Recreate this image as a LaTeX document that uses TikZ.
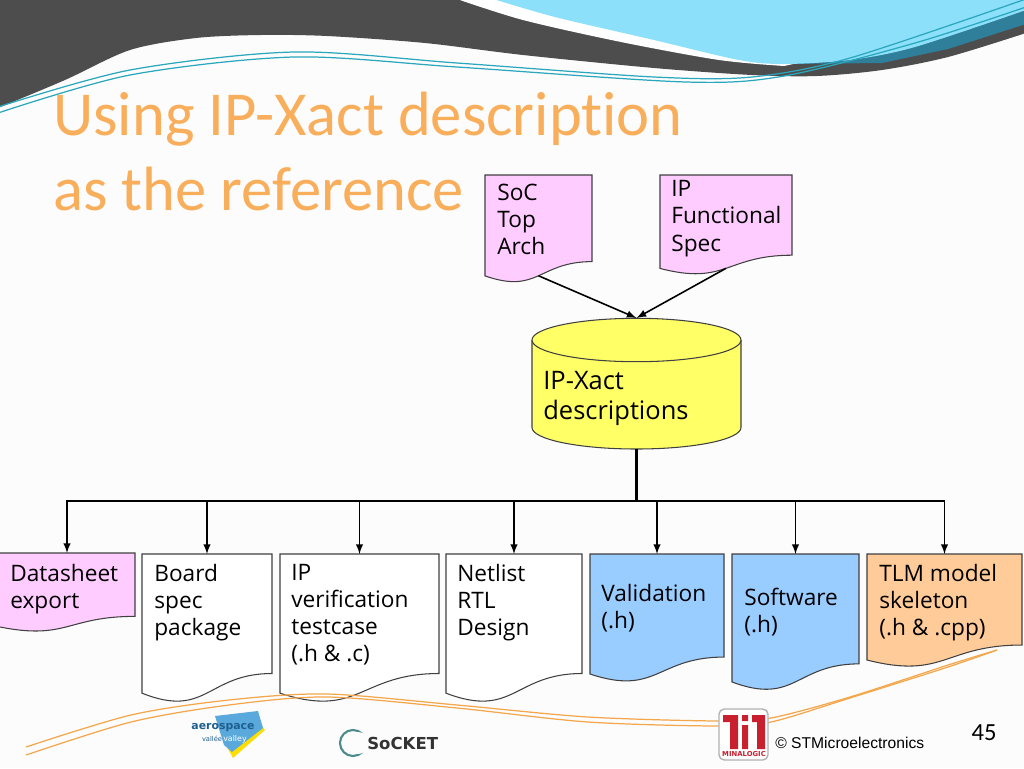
\documentclass[tikz,border=0pt]{standalone}
\usepackage{fontspec}
\setmainfont{Open Sans}
\newfontfamily\titlefont[Ligatures=NoCommon]{Carlito}
\newfontfamily\footfont{Liberation Sans}
\newfontfamily\logofont{DejaVu Sans}
\definecolor{swdark}{HTML}{4D4D4D}
\definecolor{swblue}{HTML}{8CE0FA}
\definecolor{swteal}{HTML}{2F7F9A}
\definecolor{swline}{HTML}{2AA7BD}
\definecolor{swamber}{HTML}{F4A64A}
\definecolor{titleamber}{HTML}{F9AE5B}
\definecolor{docpink}{HTML}{FFCCFF}
\definecolor{docblue}{HTML}{99CCFF}
\definecolor{docorange}{HTML}{FFCC99}
\definecolor{dbyellow}{HTML}{FFFF66}
\definecolor{minared}{HTML}{C8202F}
\definecolor{aeroblue}{HTML}{1F5F8F}
\definecolor{aerosky}{HTML}{5AA9DC}
\tikzset{
	docline/.style={draw=black!75,line width=.6pt},
	docarea/.style={anchor=north west,inner sep=0pt,outer sep=0pt},
	doctext/.style={anchor=north west,inner sep=0pt,align=left,font=\fontsize{12.9}{15.5}\selectfont},
	link/.style={draw=black,line width=.9pt,-latex},
	swcurve/.style={line width=.7pt}
}
% page-style document outline, an empty node over it for the connectors, its text
\newcommand{\docshape}[9]{
	\draw[docline,fill=#6] (#2,#3) -- ++(#4,0) -- ++(0,{.802*#5})
	.. controls ({#2+.5*#4},{#3+.802*#5}) and ({#2+.5*#4},{#3+1.1075*#5}) .. ({#2},{#3+.934*#5}) -- cycle;
	\node[docarea,minimum width={#4*.02cm},minimum height={.933*#5*.02cm}] (#1) at (#2,#3) {};
	\node[doctext] (#1text) at (#7,#8) {#9};
}
\begin{document}
\begin{tikzpicture}[x=.02cm,y=-.02cm]
	\useasboundingbox (0,0) rectangle (1024,768);
	\fill[black!1] (0,0) rectangle (1024,768);

	% header swoosh
	\fill[swdark] plot[smooth] coordinates {(-2,108) (65,80) (130,50) (196,38) (261,35) (327,36) (425,43) (523,55) (654,68) (752,75) (817,76) (882,70) (948,57) (1026,33)} -- (1026,-2) -- (-2,-2) -- cycle;
	\fill[white] plot[smooth] coordinates {(454,-2) (523,20) (621,42) (719,60) (784,66)} -- (1026,14) -- (1026,-2) -- cycle;
	\fill[swteal] plot[smooth] coordinates {(790,64) (882,50) (948,35) (1026,5)} -- (1026,24) -- (948,49) -- (882,63) -- cycle;
	\fill[swblue] plot[smooth] coordinates {(490,-2) (555,17) (654,40) (739,60) (784,64) (850,60) (915,47) (1026,10)} -- (1026,-2) -- cycle;
	\draw[swline,swcurve] plot[smooth] coordinates {(-2,107) (130,70) (294,52) (457,63) (654,77) (752,77) (850,58) (1026,-1)};
	\draw[swline,swcurve] plot[smooth] coordinates {(-2,113) (130,75) (294,57) (457,67) (686,82) (784,76) (915,43) (1026,7)};

	\node[anchor=north west,inner sep=0pt,align=left,text=titleamber,font=\titlefont\fontsize{35.6}{42.5}\selectfont] (title) at (53,92) {Using IP-Xact description\\as the reference};

	% documents
	\docshape{soc}{485}{175}{107}{108}{docpink}{497}{183.5}{SoC\\Top\\Arch}
	\docshape{func}{660}{175}{132}{100}{docpink}{671}{180}{IP\\Functional\\Spec}
	\docshape{sheet}{-1}{553}{136}{79}{docpink}{10}{563.5}{Datasheet\\export}
	\docshape{board}{142}{554}{130}{149}{white}{154}{563.5}{Board\\spec\\package}
	\docshape{verif}{280}{554}{159}{149}{white}{291}{563.5}{IP\\verification\\testcase\\(.h \& .c)}
	\docshape{netlist}{446}{554}{136}{149}{white}{457}{563.5}{Netlist\\RTL\\Design}
	\docshape{valid}{590}{554}{134}{128.5}{docblue}{601}{583.5}{Validation\\(.h)}
	\docshape{soft}{732}{554}{127}{137}{docblue}{744}{587.5}{Software\\(.h)}
	\docshape{tlm}{867}{554}{155}{113.5}{docorange}{879}{563.5}{TLM model\\skeleton\\(.h \& .cpp)}

	% database
	\draw[docline,fill=dbyellow] (532,340) -- (532,427.5) arc[start angle=180,end angle=0,x radius=104.5,y radius=21.5] -- (741,340);
	\draw[docline,fill=dbyellow] (636.5,340) ellipse[x radius=104.5,y radius=21.7];
	\node[docarea,minimum width=4.18cm,minimum height=2.62cm] (db) at (532,318) {};
	\node[doctext,font=\fontsize{14.5}{17.5}\selectfont] (dbtext) at (543,370.5) {IP-Xact\\descriptions};

	% connectors
	\draw[link] (soc.south) -- (db.north);
	\draw[link] (func.south) -- (db.north);
	\coordinate (bus) at (db.south |- 0,501);
	\draw[draw=black,line width=1.3pt] (db.south) -- (bus);
	\foreach \target in {sheet,board,verif,netlist,valid,soft,tlm}
	\draw[link] (bus) -| (\target.north);

	% footer line
	\draw[swamber,swcurve] plot[smooth] coordinates {(26,747) (131,715) (229,700) (327,694) (457,705) (588,717) (719,721) (771,718) (850,697) (948,665) (997,650)};
	\draw[swamber,swcurve] plot[smooth] coordinates {(26,755) (131,722) (229,705) (327,697) (457,708) (588,722) (719,726) (771,722) (850,698) (948,667) (997,650)};

	% aerospace logo
	\fill[yellow!80!orange] (226,745) -- (233,758) -- (265,730) -- (262,726) -- cycle;
	\fill[aerosky] (215,716) -- (258,711) -- (263,728) -- (232,752) -- (224,745) -- cycle;
	\node[inner sep=0pt,text=aeroblue,font=\logofont\bfseries\fontsize{6.2}{7}\selectfont] (aero) at (223,728) {aerospace};
	\node[inner sep=0pt,text=aeroblue,font=\logofont\fontsize{3.8}{4}\selectfont] (vallee) at (212,739) {vallée};
	\node[inner sep=0pt,text=white,font=\logofont\fontsize{4.5}{5}\selectfont] (valley) at (235,739) {valley};

	% socket logo
	\draw[teal!70!black!70,line width=1.2pt] (353,743) ellipse[x radius=13,y radius=13];
	\fill[black!1] (358,743) ellipse[x radius=12,y radius=11];
	\node[anchor=west,inner sep=0pt,text=black!80,font=\logofont\bfseries\fontsize{9.4}{10}\selectfont] (socket) at (367,743) {SoCKET};

	% minalogic logo
	\draw[draw=black!30,fill=white,line width=.8pt,rounded corners=3pt] (719,709) rectangle (768,760);
	\fill[minared] (723,715) rectangle (738,722) (730,715) rectangle (738,749);
	\fill[minared] (742,715) rectangle (748,721) (742,725) rectangle (748,749);
	\fill[minared] (752,715) rectangle (765,722) (757,715) rectangle (765,749);
	\node[inner sep=0pt,text=minared,font=\logofont\bfseries\fontsize{3.9}{4}\selectfont] (minalogic) at (744,754) {MINALOGIC};

	\node[anchor=west,inner sep=0pt,font=\footfont\fontsize{8.9}{11}\selectfont] (copy) at (775,743) {© STMicroelectronics};
	\node[inner sep=0pt,font=\titlefont\fontsize{14}{16}\selectfont] (pagenum) at (984,733) {45};
\end{tikzpicture}
\end{document}
